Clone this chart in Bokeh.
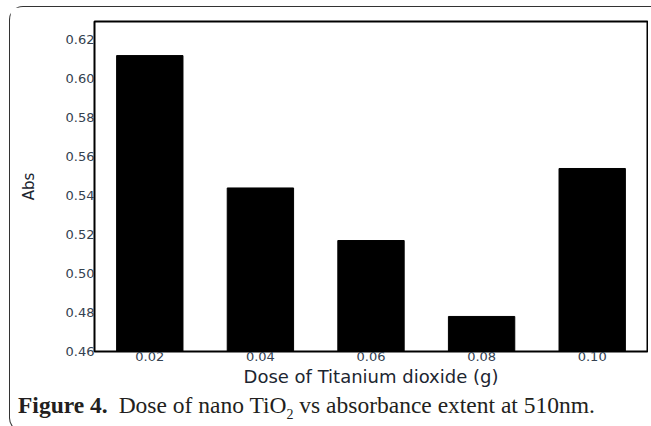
from bokeh.plotting import figure
from bokeh.models import Range1d, FixedTicker, NumeralTickFormatter, FactorRange, Div
from bokeh.layouts import column
from bokeh.embed import file_html
from bokeh.resources import INLINE

doses = ["0.02", "0.04", "0.06", "0.08", "0.10"]
absorbance = [0.612, 0.544, 0.517, 0.478, 0.554]
y_ticks = [0.46, 0.48, 0.50, 0.52, 0.54, 0.56, 0.58, 0.60, 0.62]
x_title = "Dose of Titanium dioxide (g)"
y_title = "Abs"
caption_bold = "Figure 4."
caption_rest = "Dose of nano TiO<sub style='font-size:14px'>2</sub> vs absorbance extent at 510nm."

p = figure(width=638, height=384, output_backend="svg", toolbar_location=None,
           x_range=FactorRange(*doses, range_padding=0),
           y_range=Range1d(0.46, 0.6295),
           min_border_left=84, min_border_right=1, min_border_top=14, min_border_bottom=40)

p.vbar(x=doses, top=absorbance, bottom=0.46, width=0.6, fill_color="black", line_color="black")

p.xgrid.visible = False
p.ygrid.visible = False
p.outline_line_color = "black"
p.outline_line_width = 2
p.background_fill_color = "white"
p.border_fill_color = "white"

tick_color = "#34414f"
for ax in (p.xaxis[0], p.yaxis[0]):
    ax.axis_line_color = None
    ax.major_tick_line_color = None
    ax.minor_tick_line_color = None
    ax.major_tick_out = 0
    ax.major_tick_in = 0
    ax.major_label_text_font = "DejaVu Sans"
    ax.major_label_text_font_size = "13px"
    ax.major_label_text_color = tick_color
    ax.axis_label_text_font = "DejaVu Sans"
    ax.axis_label_text_font_style = "normal"
    ax.axis_label_text_color = "#1c2631"

p.yaxis.ticker = FixedTicker(ticks=y_ticks)
p.yaxis.formatter = NumeralTickFormatter(format="0.00")
p.yaxis.major_label_standoff = 0
p.yaxis.axis_label = y_title
p.yaxis.axis_label_orientation = "parallel"
p.yaxis.axis_label_text_font_size = "15px"
p.yaxis.axis_label_standoff = 25

p.xaxis.major_label_standoff = 0
p.xaxis.axis_label = x_title
p.xaxis.axis_label_text_font_size = "18px"
p.xaxis.axis_label_standoff = 2

cap = Div(text=f"<b>{caption_bold}</b><span style='padding-left:11px'>{caption_rest}</span>",
          width=638, height=30,
          styles={"font-family": "'Liberation Serif', serif", "font-size": "23.5px",
                  "color": "#231f20", "padding-left": "3px", "padding-top": "0px",
                  "line-height": "19px", "white-space": "nowrap"})

layout = column(p, cap, spacing=0,
                styles={"border-top": "1px solid #333", "border-left": "1px solid #333",
                        "border-bottom": "1px solid #333",
                        "border-top-left-radius": "14px", "border-bottom-left-radius": "14px",
                        "margin-left": "9px", "margin-top": "6px"})

open("out.html", "w").write(file_html(layout, INLINE))
